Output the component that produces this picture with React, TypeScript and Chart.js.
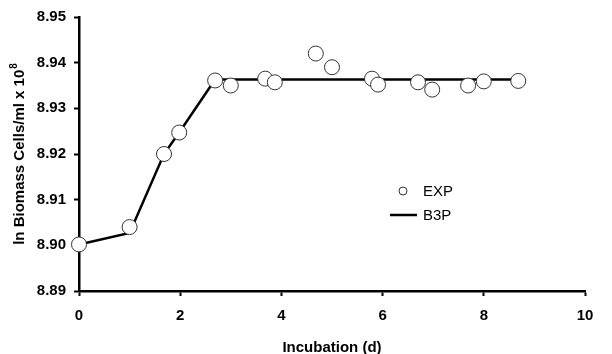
import React, { useEffect, useRef } from "react";
import { Chart, registerables } from "chart.js";

Chart.register(...registerables);

const expX = [0, 1, 1.68, 1.98, 2.69, 3.0, 3.68, 3.87, 4.68, 5.0, 5.79, 5.91, 6.7, 6.98, 7.69, 8.0, 8.68];
const expY = [8.9002, 8.904, 8.92, 8.9247, 8.9361, 8.935, 8.9365, 8.9357, 8.942, 8.939, 8.9365, 8.9352, 8.9357, 8.9341, 8.935, 8.9359, 8.936];
const b3pX = [0, 1, 1.68, 1.98, 2.69, 8.68];
const b3pY = [8.9002, 8.9027, 8.92, 8.9247, 8.9363, 8.9363];
const xTitle = "Incubation (d)";
const yTitleMain = "ln Biomass Cells/ml x 10";
const yTitleSup = "8";
const legendLabels = ["EXP", "B3P"];

const FONT = "'Liberation Sans', Arial, sans-serif";

const customText = {
  id: "customText",
  afterDraw(chart: any) {
    const ctx = chart.ctx;
    const a = chart.chartArea;
    ctx.save();
    ctx.fillStyle = "#000";
    // x title
    ctx.font = `bold 15px ${FONT}`;
    ctx.textAlign = "center";
    ctx.textBaseline = "alphabetic";
    ctx.fillText(xTitle, (a.left + a.right) / 2, 352);
    // y title
    ctx.save();
    ctx.translate(24, (a.top + a.bottom) / 2);
    ctx.rotate(-Math.PI / 2);
    ctx.font = `bold 15px ${FONT}`;
    const w1 = ctx.measureText(yTitleMain).width;
    ctx.font = `bold 10px ${FONT}`;
    const w2 = ctx.measureText(yTitleSup).width;
    const start = -(w1 + w2 + 1) / 2;
    ctx.textAlign = "left";
    ctx.font = `bold 15px ${FONT}`;
    ctx.fillText(yTitleMain, start, 0);
    ctx.font = `bold 10px ${FONT}`;
    ctx.fillText(yTitleSup, start + w1 + 1, -7);
    ctx.restore();
    // legend
    const ly1 = 191;
    const ly2 = 215;
    ctx.strokeStyle = "#333";
    ctx.lineWidth = 1;
    ctx.fillStyle = "#fff";
    ctx.beginPath();
    ctx.arc(403, ly1, 4, 0, Math.PI * 2);
    ctx.fill();
    ctx.stroke();
    ctx.strokeStyle = "#000";
    ctx.lineWidth = 2.5;
    ctx.beginPath();
    ctx.moveTo(390, ly2);
    ctx.lineTo(417, ly2);
    ctx.stroke();
    ctx.fillStyle = "#000";
    ctx.font = `15px ${FONT}`;
    ctx.textAlign = "left";
    ctx.textBaseline = "middle";
    ctx.fillText(legendLabels[0], 423, ly1 + 1);
    ctx.fillText(legendLabels[1], 423, ly2 + 1);
    ctx.restore();
  },
};

export default function App() {
  const ref = useRef<HTMLCanvasElement | null>(null);
  useEffect(() => {
    if (!ref.current) return;
    const chart = new Chart(ref.current, {
      type: "scatter",
      data: {
        datasets: [
          {
            label: legendLabels[0],
            data: expX.map((x, i) => ({ x, y: expY[i] })),
            pointRadius: 7.5,
            pointHoverRadius: 7.5,
            pointBackgroundColor: "#fff",
            pointBorderColor: "#333",
            pointBorderWidth: 1,
            showLine: false,
            order: 0,
            clip: false as any,
          },
          {
            label: legendLabels[1],
            data: b3pX.map((x, i) => ({ x, y: b3pY[i] })),
            showLine: true,
            pointRadius: 0,
            borderColor: "#000",
            borderWidth: 2.5,
            order: 1,
            clip: false as any,
          },
        ],
      },
      options: {
        animation: false,
        responsive: false,
        maintainAspectRatio: false,
        layout: { padding: { top: 17, right: 27, left: 0, bottom: 0 } },
        plugins: { legend: { display: false }, tooltip: { enabled: false } },
        scales: {
          x: {
            type: "linear",
            min: 0,
            max: 10,
            afterFit: (s: any) => {
              s.height = 63;
            },
            border: { color: "#000", width: 2.5 },
            grid: { drawOnChartArea: false, drawTicks: true, tickLength: 5, tickColor: "#000", tickWidth: 2 },
            ticks: {
              stepSize: 2,
              padding: 11,
              color: "#000",
              font: { family: FONT, size: 15, weight: "bold" },
            },
          },
          y: {
            type: "linear",
            min: 8.89,
            max: 8.95,
            afterFit: (s: any) => {
              s.width = 79;
            },
            border: { color: "#000", width: 2.5 },
            grid: { drawOnChartArea: false, drawTicks: true, tickLength: 5, tickColor: "#000", tickWidth: 2 },
            ticks: {
              stepSize: 0.01,
              padding: 8,
              color: "#000",
              font: { family: FONT, size: 15, weight: "bold" },
              callback: (v: any) => Number(v).toFixed(2),
            },
          },
        },
      },
      plugins: [customText],
    });
    return () => chart.destroy();
  }, []);
  return (
    <div style={{ position: "fixed", left: 0, top: 0, width: 612, height: 354, background: "#fff" }}>
      <canvas ref={ref} width={612} height={354} style={{ width: 612, height: 354 }} />
    </div>
  );
}
